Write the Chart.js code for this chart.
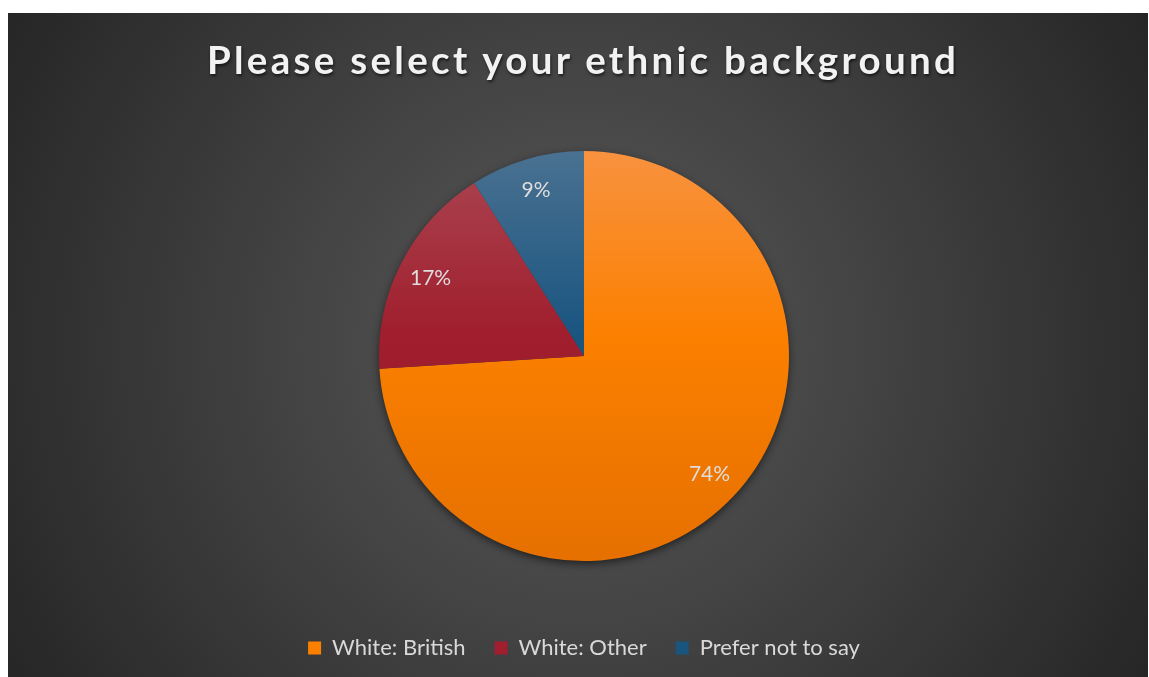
<!DOCTYPE html>
<html lang="en">
<head>
    <meta charset="UTF-8">
    <title>Please select your ethnic background</title>
    <style>
        body {
            margin: 0;
            background-color: #fff;
        }
        #chart-container {
            position: absolute;
            left: 8px;
            top: 13px;
            width: 1140px;
            height: 664px;
            background: radial-gradient(circle farthest-corner at 50% 50%, #5a5a5a 0%, #262626 100%);
        }
        #chart-title {
            position: absolute;
            left: 10px;
            right: 0;
            top: 23px;
            text-align: center;
            font-family: Lato, "Open Sans", sans-serif;
            font-weight: bold;
            font-size: 38.5px;
            letter-spacing: 3.3px;
            color: #f2f2f2;
            text-shadow: 1px 2px 3px rgba(0, 0, 0, 0.6);
            z-index: 2;
        }
        canvas {
            position: absolute;
            left: 0;
            top: 0;
        }
    </style>
</head>
<body>
    <div id="chart-container">
        <div id="chart-title">Please select your ethnic background</div>
        <canvas id="ethnic-chart"></canvas>
    </div>

    <script src="https://cdn.jsdelivr.net/npm/chart.js"></script>
    <script>
        const categories = ['White: British', 'White: Other', 'Prefer not to say'];
        const shares = [74, 17, 9];

        // top / middle / bottom shades of each slice
        const topColors = ['#f8923f', '#ab4652', '#4a7191'];
        const midColors = ['#fb8000', '#a01e2d', '#1a5580'];
        const bottomColors = ['#e67000', '#971a29', '#134e77'];
        const legendColors = ['#fb8000', '#a01e2d', '#1a5580'];

        const pieRadius = 205;

        function sliceFill(context) {
            const chart = context.chart;
            const area = chart.chartArea;
            const i = context.dataIndex;
            if (!area) return midColors[i];
            const cy = (area.top + area.bottom) / 2;
            const g = chart.ctx.createLinearGradient(0, cy - pieRadius, 0, cy + pieRadius);
            g.addColorStop(0, topColors[i]);
            g.addColorStop(0.45, midColors[i]);
            g.addColorStop(1, bottomColors[i]);
            return g;
        }

        // soft shadow under the whole pie
        const pieShadow = {
            id: 'pieShadow',
            beforeDatasetsDraw(chart) {
                const arc = chart.getDatasetMeta(0).data[0];
                if (!arc) return;
                const { x, y, outerRadius } = arc.getProps(['x', 'y', 'outerRadius'], true);
                const ctx = chart.ctx;
                ctx.save();
                ctx.shadowColor = 'rgba(0, 0, 0, 0.65)';
                ctx.shadowBlur = 10;
                ctx.shadowOffsetY = 3;
                ctx.fillStyle = '#333';
                ctx.beginPath();
                ctx.arc(x, y, outerRadius - 1, 0, Math.PI * 2);
                ctx.fill();
                ctx.restore();
            }
        };

        // percentage labels inside the slices
        const sliceLabels = {
            id: 'sliceLabels',
            afterDatasetsDraw(chart) {
                const ctx = chart.ctx;
                const data = chart.data.datasets[0].data;
                const total = data.reduce((a, b) => a + b, 0);
                ctx.save();
                ctx.font = '21px Lato, "Open Sans", sans-serif';
                ctx.fillStyle = '#dedede';
                ctx.textAlign = 'center';
                ctx.textBaseline = 'middle';
                chart.getDatasetMeta(0).data.forEach((arc, i) => {
                    const p = arc.getProps(['x', 'y', 'startAngle', 'endAngle', 'outerRadius'], true);
                    const mid = (p.startAngle + p.endAngle) / 2;
                    const r = p.outerRadius * 0.84;
                    const label = Math.round(data[i] / total * 100) + '%';
                    ctx.fillText(label, p.x + Math.cos(mid) * r, p.y + Math.sin(mid) * r);
                });
                ctx.restore();
            }
        };

        const ctx = document.getElementById('ethnic-chart').getContext('2d');
        const ethnicChart = new Chart(ctx, {
            type: 'pie',
            data: {
                labels: categories,
                datasets: [{
                    data: shares,
                    backgroundColor: sliceFill,
                    borderWidth: 0,
                    radius: pieRadius
                }]
            },
            options: {
                responsive: true,
                maintainAspectRatio: false,
                animation: false,
                layout: {
                    padding: { top: 91, left: 12, right: 0, bottom: 8 }
                },
                plugins: {
                    tooltip: { enabled: false },
                    legend: {
                        position: 'bottom',
                        labels: {
                            color: '#d9d9d9',
                            boxWidth: 13,
                            boxHeight: 13,
                            padding: 29,
                            font: { family: 'Lato, "Open Sans", sans-serif', size: 22 },
                            generateLabels(chart) {
                                return chart.data.labels.map((label, i) => ({
                                    text: label,
                                    fillStyle: legendColors[i],
                                    strokeStyle: legendColors[i],
                                    lineWidth: 0,
                                    fontColor: '#d9d9d9',
                                    index: i
                                }));
                            }
                        }
                    }
                }
            },
            plugins: [pieShadow, sliceLabels]
        });
    </script>
</body>
</html>
